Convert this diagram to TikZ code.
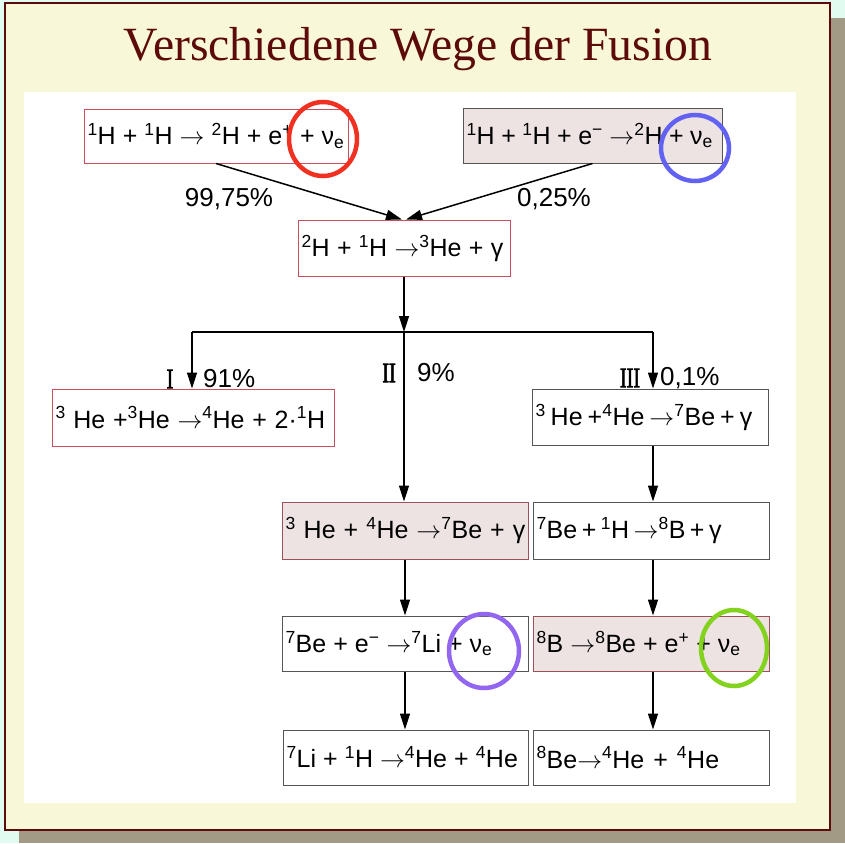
\documentclass[tikz,border=0pt]{standalone}
\usepackage{graphicx}
\usepackage{fontspec}
\setmainfont{Liberation Sans}
\newfontfamily\titlefont{Liberation Serif}
\newfontfamily\romfont[FakeBold=2.5]{Liberation Serif}
\usetikzlibrary{arrows.meta,calc}
\newcommand\iso[1]{\textsuperscript{#1}}
\newcommand\rarr{$\rightarrow$}
\newcommand\nue{ν\textsubscript{e}}
\newcommand\bx[2]{\spaceskip=#1pt\relax\mbox{#2}}
\newcommand\romnum[1]{\scalebox{0.72}[1]{\romfont #1}}
\definecolor{mint}{HTML}{E2FBF0}
\definecolor{cream}{HTML}{F8F8D8}
\definecolor{frame}{HTML}{5C0A0A}
\definecolor{shadowc}{HTML}{A39A86}
\definecolor{shade}{HTML}{EDE3E3}
\definecolor{redline}{HTML}{C8505A}
\definecolor{grayline}{HTML}{555555}
\definecolor{cred}{HTML}{F03020}
\definecolor{cblue}{HTML}{6262F2}
\definecolor{cpurple}{HTML}{9366F0}
\definecolor{cgreen}{HTML}{82D21E}
\begin{document}
\begin{tikzpicture}[x=1pt,y=-1pt,
  box/.style={draw, line width=1pt, inner xsep=3.5pt, inner ysep=0pt, align=left,
    font=\fontsize{25}{29}\selectfont, anchor=center},
  redbox/.style={box, draw=redline, fill=white},
  graybox/.style={box, draw=grayline, fill=white},
  shadebox/.style={box, draw=grayline, fill=shade},
  lab/.style={font=\fontsize{26}{30}\selectfont, inner sep=0pt},
  roman/.style={font=\fontsize{28}{32}\selectfont, inner sep=0pt},
  conn/.style={line width=1.5pt},
  arr/.style={conn, -{Triangle[length=16pt,width=10pt]}},
  ring/.style={line width=4.5pt}]
\useasboundingbox (0,0) rectangle (845,843);
\fill[mint] (0,0) rectangle (845,843);
\fill[shadowc] (19,18) rectangle (845,843);
\draw[frame, fill=cream, line width=2pt] (5,3) rectangle (830,830);
\node[font=\titlefont\fontsize{47.7}{52}\selectfont, text=frame, anchor=base, inner sep=0pt] (title) at (418,60) {Verschiedene Wege der Fusion};
\fill[white] (24,92) rectangle (796,803);

% boxes
\node[redbox, minimum width=264pt, minimum height=54pt, text width=257pt] (A) at (216,136)
  {\bx{7}{\iso{1}H + \iso{1}H \rarr\ \iso{2}H + e\iso{+} + \nue}};
\node[shadebox, minimum width=259pt, minimum height=55pt, text width=252pt] (B) at (592.5,135.5)
  {\bx{6.5}{\iso{1}H + \iso{1}H + e\iso{−} \rarr\iso{2}H + \nue}};
\node[redbox, minimum width=212pt, minimum height=56pt, text width=205pt] (C) at (404,248)
  {\bx{7.3}{\iso{2}H + \iso{1}H \rarr\iso{3}He + γ}};
\node[redbox, minimum width=282pt, minimum height=57pt, text width=275pt] (D) at (193,417.5)
  {\bx{7.7}{\iso{3} He +\iso{3}He \rarr\iso{4}He + 2·\iso{1}H}};
\node[graybox, minimum width=236pt, minimum height=56pt, text width=229pt] (E) at (650,417)
  {\bx{5}{\iso{3} He +\iso{4}He \rarr\iso{7}Be + γ}};
\node[shadebox, draw=redline!60!grayline, minimum width=246pt, minimum height=57pt, text width=239pt] (F) at (405,530.5)
  {\bx{8}{\iso{3} He + \iso{4}He \rarr\iso{7}Be + γ}};
\node[graybox, minimum width=236pt, minimum height=57pt, text width=229pt] (G) at (651,530.5)
  {\bx{4.5}{\iso{7}Be + \iso{1}H \rarr\iso{8}B + γ}};
\node[graybox, minimum width=246pt, minimum height=55pt, text width=239pt] (H) at (405,643.5)
  {\bx{7}{\iso{7}Be + e\iso{−} \rarr\iso{7}Li + \nue}};
\node[shadebox, draw=redline!60!grayline, minimum width=236pt, minimum height=55pt, text width=229pt] (I) at (651,643.5)
  {\bx{7}{\iso{8}B \rarr\iso{8}Be + e\iso{+} + \nue}};
\node[graybox, minimum width=245pt, minimum height=55pt, text width=238pt] (J) at (405.5,757.5)
  {\bx{7}{\iso{7}Li + \iso{1}H \rarr\iso{4}He + \iso{4}He}};
\node[graybox, minimum width=236pt, minimum height=55pt, text width=229pt] (K) at (651,757.5)
  {\bx{9}{\iso{8}Be\rarr\iso{4}He + \iso{4}He}};

% connectors
\draw[arr] (A.south) -- ([xshift=-2pt]C.north);
\draw[arr] (B.south) -- ([xshift=2pt]C.north);
\coordinate (s) at (404,332);
\coordinate (sl) at (192,332);
\coordinate (sr) at (653,332);
\draw[arr] (C.south) -- (s);
\draw[conn] (sl) -- (sr);
\draw[arr] (sl) -- (sl |- D.north);
\draw[arr] (sr) -- (sr |- E.north);
\draw[arr] (s) -- (s |- F.north);
\draw[arr] (E.south -| sr) -- (sr |- G.north);
\draw[arr] (F.south) -- (H.north);
\draw[arr] (G.south -| sr) -- (sr |- I.north);
\draw[arr] (H.south) -- (H.south |- J.north);
\draw[arr] (I.south -| sr) -- (sr |- K.north);

% labels
\node[lab] (p1) at (229,199) {99,75\%};
\node[lab] (p2) at (554,199) {0,25\%};
\node[roman] (r1) at (170,379) {\romnum{I}};
\node[lab, anchor=west] (p3) at (203,379) {91\%};
\node[roman] (r2) at (389,373) {\romnum{II}};
\node[lab, anchor=west] (p4) at (417,373) {9\%};
\node[roman] (r3) at (630,378) {\romnum{III}};
\node[lab, anchor=west] (p5) at (660,378) {0,1\%};

% circles
\draw[ring, cred] (323,139) ellipse [x radius=34pt, y radius=37pt];
\draw[ring, cblue] (695,148) ellipse [x radius=34pt, y radius=33pt];
\draw[ring, cpurple] (484,651) ellipse [x radius=35pt, y radius=37pt];
\draw[ring, cgreen] (734,648) ellipse [x radius=33pt, y radius=38pt];
\end{tikzpicture}
\end{document}
